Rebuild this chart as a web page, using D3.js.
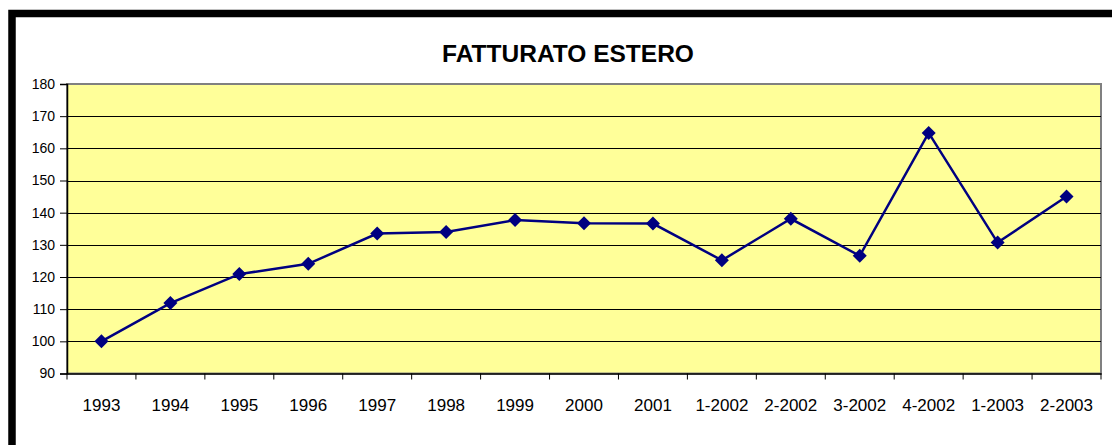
<!DOCTYPE html>
<html><head><meta charset="utf-8">
<script src="https://cdn.jsdelivr.net/npm/d3@7"></script>
<style>html,body{margin:0;padding:0;background:#fff;}svg{display:block;}</style>
</head><body>
<svg id="c" width="1112" height="445"></svg>
<script>
const categories = ["1993","1994","1995","1996","1997","1998","1999","2000","2001","1-2002","2-2002","3-2002","4-2002","1-2003","2-2003"];
const values = [100, 111.9, 120.9, 124.1, 133.5, 134, 137.7, 136.7, 136.6, 125.2, 138.1, 126.6, 164.8, 130.7, 145];
const yTicks = [90,100,110,120,130,140,150,160,170,180];
const title = "FATTURATO ESTERO";

const svg = d3.select("#c");
const L = 67, R = 1101, T = 84, B = 373.5;
const x = d3.scaleBand().domain(categories).range([L, R]).padding(0);
const y = d3.scaleLinear().domain([90, 180]).range([B, T]);

// outer frame
svg.append("rect").attr("x", 12).attr("y", 13.5).attr("width", 1200).attr("height", 600)
  .attr("fill", "none").attr("stroke", "#000").attr("stroke-width", 7.5);

// title
svg.append("text").attr("x", 568).attr("y", 61.5).attr("text-anchor", "middle")
  .attr("font-family", "Liberation Sans, Arial, sans-serif").attr("font-weight", "bold")
  .attr("font-size", 24.5).attr("fill", "#000").text(title);

// plot area
svg.append("rect").attr("x", L).attr("y", T).attr("width", R - L).attr("height", B - T)
  .attr("fill", "#FFFF99").attr("stroke", "#808080").attr("stroke-width", 2);

// gridlines
svg.append("g").selectAll("line").data(yTicks.filter(d => d > 90 && d < 180)).join("line")
  .attr("x1", L).attr("x2", R).attr("y1", d => Math.round(y(d)) + 0.5).attr("y2", d => Math.round(y(d)) + 0.5)
  .attr("stroke", "#000").attr("stroke-width", 1);

// y axis
const ya = svg.append("g").attr("transform", `translate(${L},0)`)
  .call(d3.axisLeft(y).tickValues(yTicks).tickSize(7).tickPadding(5).tickFormat(d3.format("d")));
ya.select(".domain").attr("stroke", "#000").attr("stroke-width", 1.5);
ya.selectAll("text").attr("font-family", "Liberation Sans, Arial, sans-serif").attr("font-size", 14).attr("fill", "#000");

// x axis
const xa = svg.append("g").attr("transform", `translate(0,${B})`)
  .call(d3.axisBottom(x).tickSize(0).tickPadding(25));
xa.select(".domain").attr("stroke", "#000").attr("stroke-width", 1.5);
xa.selectAll("text").attr("font-family", "Liberation Sans, Arial, sans-serif").attr("font-size", 17).attr("fill", "#000");
// category boundary ticks
const bounds = categories.map(c => x(c)).concat([R]);
svg.append("g").selectAll("line").data(bounds).join("line")
  .attr("x1", d => d).attr("x2", d => d).attr("y1", B).attr("y2", B + 6)
  .attr("stroke", "#000").attr("stroke-width", 1);

// line
const cx = c => x(c) + x.bandwidth() / 2;
svg.append("path").datum(values)
  .attr("d", d3.line().x((d, i) => cx(categories[i])).y(d => y(d)))
  .attr("fill", "none").attr("stroke", "#000080").attr("stroke-width", 2.5);

// markers
svg.append("g").selectAll("path").data(values).join("path")
  .attr("transform", (d, i) => `translate(${cx(categories[i])},${y(d)})`)
  .attr("d", "M0,-7L7,0L0,7L-7,0Z").attr("fill", "#000080");
</script>
</body></html>
